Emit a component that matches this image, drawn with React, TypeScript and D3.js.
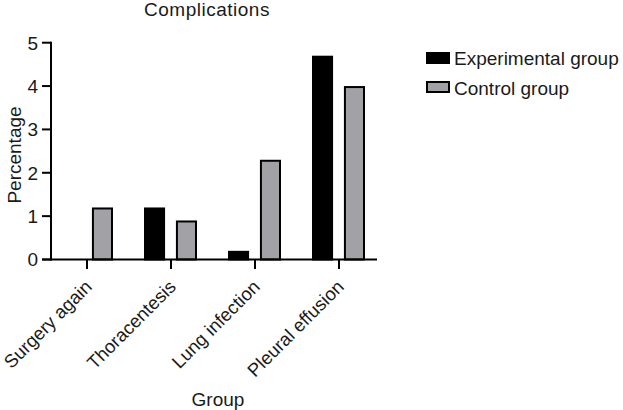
import React from "react";
import * as d3 from "d3";

const categories = ["Surgery again", "Thoracentesis", "Lung infection", "Pleural effusion"];
const seriesNames = ["Experimental group", "Control group"];
const experimental = [0, 1.2, 0.2, 4.7];
const control = [1.2, 0.9, 2.3, 4.0];
const yTicks = [0, 1, 2, 3, 4, 5];
const seriesColors = ["#000000", "#a2a2a6"];

const W = 623;
const H = 410;
const FONT = "'Liberation Sans', Arial, Helvetica, sans-serif";

export default function App() {
  const x = d3.scaleBand<string>().domain(categories).range([45, 381]);
  const inner = d3.scaleBand<string>().domain(seriesNames).range([-27, 26]).paddingInner(0.34);
  const y = d3.scaleLinear().domain([0, 5]).range([259.5, 42.7]);
  const values = [experimental, control];
  const axisLeft = 51;
  const axisBottom = y(0);

  return (
    <svg width={W} height={H} style={{ position: "absolute", left: 0, top: 0, background: "#fff" }} fontFamily={FONT}>
      <text x={207} y={16} fontSize={19} letterSpacing={0.5} textAnchor="middle" fill="#1a1a1a">Complications</text>

      {/* bars */}
      {categories.map((c, i) =>
        seriesNames.map((s, j) => {
          const v = values[j][i];
          if (v <= 0) return null;
          const cx = (x(c) as number) + x.bandwidth() / 2;
          const bx = cx + (inner(s) as number);
          const bw = inner.bandwidth();
          return (
            <rect key={c + s} x={bx + 1} y={y(v) + 1} width={bw - 2} height={axisBottom - y(v) - 1}
              fill={seriesColors[j]} stroke="#000" strokeWidth={2} />
          );
        })
      )}

      {/* y axis */}
      <line x1={axisLeft} x2={axisLeft} y1={y(5) - 1} y2={axisBottom + 1} stroke="#000" strokeWidth={2} />
      {yTicks.map((t) => (
        <g key={t}>
          <line x1={42} x2={axisLeft} y1={y(t)} y2={y(t)} stroke="#000" strokeWidth={2} />
          <text x={38} y={y(t)} dy="0.36em" textAnchor="end" fontSize={19} fill="#1a1a1a">{t}</text>
        </g>
      ))}

      {/* x axis */}
      <line x1={42} x2={377} y1={axisBottom} y2={axisBottom} stroke="#000" strokeWidth={2} />
      {categories.map((c) => {
        const cx = (x(c) as number) + x.bandwidth() / 2;
        return (
          <g key={c}>
            <line x1={cx} x2={cx} y1={axisBottom} y2={269} stroke="#000" strokeWidth={2} />
            <text transform={`translate(${cx + 6},${288}) rotate(-45)`} textAnchor="end" fontSize={18.5} fill="#1a1a1a">{c}</text>
          </g>
        );
      })}

      {/* axis titles */}
      <text transform={`translate(21,155) rotate(-90)`} textAnchor="middle" fontSize={19} fill="#1a1a1a">Percentage</text>
      <text x={218} y={406} textAnchor="middle" fontSize={19} fill="#1a1a1a">Group</text>

      {/* legend */}
      {seriesNames.map((s, j) => (
        <g key={s}>
          <rect x={427} y={53 + j * 29} width={22} height={10} fill={seriesColors[j]} stroke="#000" strokeWidth={2} />
          <text x={454} y={65 + j * 30} fontSize={19} fill="#1a1a1a">{s}</text>
        </g>
      ))}
    </svg>
  );
}
